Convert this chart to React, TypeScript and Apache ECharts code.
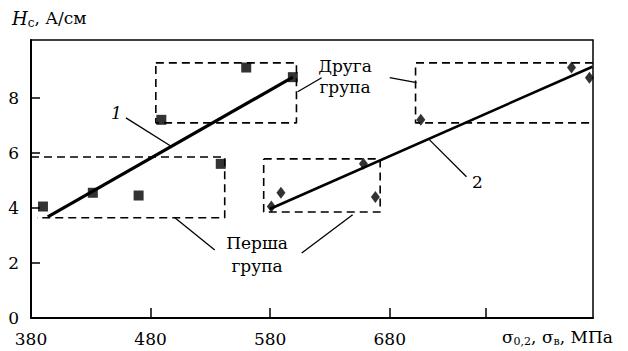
import React, { useEffect, useRef } from "react";
import * as echarts from "echarts";

// Tick / label values
const xTickValues = [380, 480, 580, 680, 760];
const xLabelValues = [380, 480, 580, 680];
const yTickValues = [2, 4, 6, 8];
const yLabelValues = [0, 2, 4, 6, 8];

// Series 1 (squares)
const s1X = [390, 431.7, 470, 489, 538.7, 560, 599];
const s1Y = [4.05, 4.55, 4.45, 7.2, 5.6, 9.1, 8.75];
// Series 2 (diamonds)
const s2X = [581, 589, 658, 668, 706, 832, 847];
const s2Y = [4.05, 4.55, 5.6, 4.4, 7.2, 9.1, 8.73];

// Fit lines
const fit1X = [394, 599];
const fit1Y = [3.67, 8.75];
const fit2X = [579.7, 849.5];
const fit2Y = [3.96, 9.13];

// Group boxes (dashed)
const boxAX = [380, 542, 542, 385];
const boxAY = [5.85, 5.85, 3.64, 3.64];
const boxBX = [484.4, 602, 602, 484.4, 484.4];
const boxBY = [9.27, 9.27, 7.09, 7.09, 9.27];
const boxCX = [574.6, 672, 672, 574.6, 574.6];
const boxCY = [5.78, 5.78, 3.85, 3.85, 5.78];
const boxDX = [850, 701.6, 701.6, 850];
const boxDY = [9.27, 9.27, 7.09, 7.09];

// Leader lines [x0, y0, x1, y1]
const leaders: number[][] = [
  [459.4, 7.27, 497.8, 6.22],
  [713.3, 6.47, 744.2, 5.13],
  [500.3, 3.64, 533.7, 2.47],
  [606.4, 2.36, 649, 3.75],
  [623.1, 8.73, 603, 8.22],
  [680, 8.73, 702.5, 8.55],
];

const zip = (xs: number[], ys: number[]) => xs.map((x, i) => [x, ys[i]]);

const FONT = "DejaVu Serif";

export default function App() {
  const ref = useRef<HTMLDivElement>(null);
  useEffect(() => {
    if (!ref.current) return;
    const chart = echarts.init(ref.current, undefined, { renderer: "svg" });
    const dashed = (xs: number[], ys: number[], name: string) => ({
      type: "line",
      name,
      data: zip(xs, ys),
      symbol: "none",
      lineStyle: { color: "#000", width: 1.6, type: [8, 5] },
      z: 2,
    });
    const leaderSeries = leaders.map((l, i) => ({
      type: "line",
      name: "leader" + i,
      data: [
        [l[0], l[1]],
        [l[2], l[3]],
      ],
      symbol: "none",
      lineStyle: { color: "#000", width: 1.3 },
      z: 2,
    }));
    chart.setOption({
      animation: false,
      backgroundColor: "#fff",
      textStyle: { fontFamily: FONT },
      grid: {
        left: 31,
        right: 35,
        top: 40,
        bottom: 33,
        show: true,
        borderColor: "#000",
        borderWidth: 1.5,
      },
      xAxis: {
        type: "value",
        min: 380,
        max: 850,
        interval: 20,
        axisLine: { show: true, lineStyle: { color: "#000", width: 2 } },
        axisTick: {
          show: true,
          inside: true,
          length: 10,
          lineStyle: { color: "#000", width: 1.5 },
          customValues: xTickValues,
        },
        axisLabel: {
          customValues: xLabelValues,
          color: "#000",
          fontFamily: FONT,
          fontSize: 17,
          lineHeight: 18,
          margin: 12,
        },
        splitLine: { show: false },
      },
      yAxis: {
        type: "value",
        min: 0,
        max: 10.1,
        interval: 2,
        axisLine: { show: true, lineStyle: { color: "#000", width: 2 } },
        axisTick: {
          show: true,
          inside: true,
          length: 9,
          lineStyle: { color: "#000", width: 1.5 },
          customValues: yTickValues,
        },
        axisLabel: {
          customValues: yLabelValues,
          color: "#000",
          fontFamily: FONT,
          fontSize: 17,
          lineHeight: 16,
          margin: 12,
        },
        splitLine: { show: false },
      },
      graphic: [
        {
          type: "text",
          left: 12,
          top: 9,
          style: {
            text: "{i|H}{s|c}{n|, А/см}",
            fill: "#000",
            rich: {
              i: { fontFamily: FONT, fontStyle: "italic", fontSize: 18, fill: "#000" },
              s: { fontFamily: FONT, fontSize: 12, fill: "#000", padding: [10, 0, 0, 0] },
              n: { fontFamily: FONT, fontSize: 17, fill: "#000" },
            },
          },
        },
        {
          type: "text",
          left: 502,
          top: 328,
          style: {
            text: "{n|σ}{s|0,2}{n|, σ}{s|в}{n|, МПа}",
            fill: "#000",
            rich: {
              n: { fontFamily: FONT, fontSize: 17, fill: "#000" },
              s: { fontFamily: FONT, fontSize: 11, fill: "#000", padding: [9, 0, 0, 0] },
            },
          },
        },
        {
          type: "text",
          x: 111,
          y: 104,
          style: { text: "1", fill: "#000", font: `italic 17px ${FONT}` },
        },
        {
          type: "text",
          x: 472,
          y: 173,
          style: { text: "2", fill: "#000", font: `17px ${FONT}` },
        },
        {
          type: "text",
          x: 345,
          y: 76,
          style: {
            text: "Друга\nгрупа",
            fill: "#000",
            font: `17px ${FONT}`,
            align: "center",
            verticalAlign: "middle",
            lineHeight: 21,
          },
        },
        {
          type: "text",
          x: 257,
          y: 254,
          style: {
            text: "Перша\nгрупа",
            fill: "#000",
            font: `17px ${FONT}`,
            align: "center",
            verticalAlign: "middle",
            lineHeight: 23,
          },
        },
      ],
      series: [
        dashed(boxAX, boxAY, "boxA"),
        dashed(boxBX, boxBY, "boxB"),
        dashed(boxCX, boxCY, "boxC"),
        dashed(boxDX, boxDY, "boxD"),
        ...leaderSeries,
        {
          type: "line",
          name: "fit1",
          data: zip(fit1X, fit1Y),
          symbol: "none",
          lineStyle: { color: "#000", width: 3.2 },
          z: 3,
        },
        {
          type: "line",
          name: "fit2",
          data: zip(fit2X, fit2Y),
          symbol: "none",
          lineStyle: { color: "#000", width: 2.6 },
          z: 3,
        },
        {
          type: "scatter",
          name: "1",
          data: zip(s1X, s1Y),
          symbol: "rect",
          symbolSize: 10,
          itemStyle: { color: "#000" },
          z: 4,
        },
        {
          type: "scatter",
          name: "2",
          data: zip(s2X, s2Y),
          symbol: "diamond",
          symbolSize: [9, 12],
          itemStyle: { color: "#000" },
          z: 4,
        },
      ],
    });
    return () => chart.dispose();
  }, []);
  return (
    <div
      ref={ref}
      style={{ position: "absolute", left: 0, top: 0, width: 628, height: 351 }}
    />
  );
}
